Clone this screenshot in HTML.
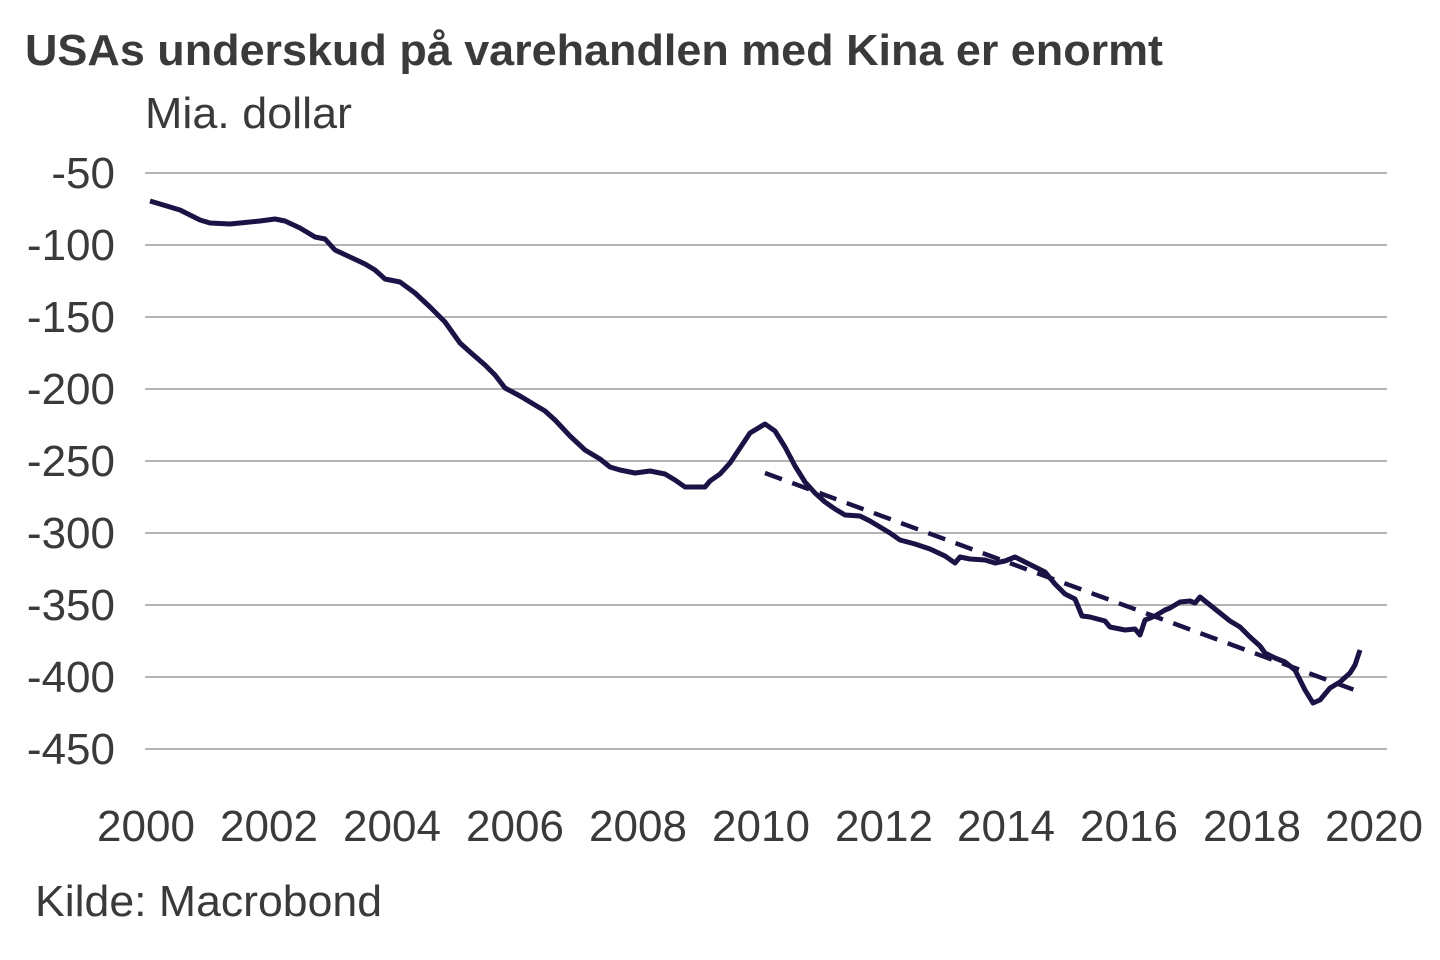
<!DOCTYPE html>
<html><head><meta charset="utf-8"><style>
body{margin:0;background:#fff;}
svg{display:block;font-family:"Liberation Sans",sans-serif;}
</style></head><body>
<svg width="1440" height="960" viewBox="0 0 1440 960">
<rect width="1440" height="960" fill="#fff"/>
<text x="25" y="65" font-size="44" font-weight="bold" fill="#3a3a3a" textLength="1138" lengthAdjust="spacingAndGlyphs">USAs underskud på varehandlen med Kina er enormt</text>
<text x="145" y="128" font-size="44" fill="#3a3a3a" textLength="207" lengthAdjust="spacingAndGlyphs">Mia. dollar</text>
<g stroke="#9a9a9a" stroke-width="1.5">
<line x1="145" x2="1387" y1="173" y2="173"/><line x1="145" x2="1387" y1="245" y2="245"/>
<line x1="145" x2="1387" y1="317" y2="317"/><line x1="145" x2="1387" y1="389" y2="389"/>
<line x1="145" x2="1387" y1="461" y2="461"/><line x1="145" x2="1387" y1="533" y2="533"/>
<line x1="145" x2="1387" y1="605" y2="605"/><line x1="145" x2="1387" y1="677" y2="677"/>
<line x1="145" x2="1387" y1="749" y2="749"/>
</g>
<g font-size="44" fill="#3a3a3a" text-anchor="end">
<text x="115" y="188">-50</text><text x="115" y="260">-100</text><text x="115" y="332">-150</text>
<text x="115" y="404">-200</text><text x="115" y="476">-250</text><text x="115" y="548">-300</text>
<text x="115" y="620">-350</text><text x="115" y="692">-400</text><text x="115" y="764">-450</text>
</g>
<g font-size="44" fill="#3a3a3a" text-anchor="middle">
<text x="146" y="841">2000</text><text x="269" y="841">2002</text><text x="392" y="841">2004</text>
<text x="515" y="841">2006</text><text x="638" y="841">2008</text><text x="761" y="841">2010</text>
<text x="884" y="841">2012</text><text x="1006" y="841">2014</text><text x="1129" y="841">2016</text>
<text x="1252" y="841">2018</text><text x="1374" y="841">2020</text>
</g>
<text x="35" y="916" font-size="44" fill="#3a3a3a" textLength="347" lengthAdjust="spacingAndGlyphs">Kilde: Macrobond</text>
<line x1="765" y1="473" x2="1360" y2="692" stroke="#1a1446" stroke-width="4.5" stroke-dasharray="18,11"/>
<polyline fill="none" stroke="#1a1446" stroke-width="5" stroke-linejoin="round" points="150,201 180,210 200,220 210,223 230,224 260,221 275,219 285,221 300,228 315,237 325,239 335,250 350,257 365,264 375,270 385,279 400,282 415,293 430,307 445,322 460,343 470,352 485,365 495,375 505,388 520,396 530,402 545,411 555,420 570,436 585,450 600,459 610,467 620,470 635,473 650,471 665,474 675,480 685,487 695,487 705,487 710,481 720,474 730,463 740,448 750,433 765,424 775,431 785,447 795,466 805,482 815,493 825,502 835,509 845,515 860,516 870,521 880,527 890,533 900,540 915,544 930,549 945,556 955,563 960,557 970,559 985,560 995,563 1005,561 1015,557 1025,562 1035,567 1045,572 1055,584 1065,594 1075,599 1082,616 1090,617 1105,621 1110,627 1125,630 1135,629 1140,635 1145,620 1155,616 1165,610 1170,608 1180,602 1190,601 1195,603 1200,597 1210,605 1220,613 1230,621 1240,627 1250,637 1260,646 1265,653 1275,658 1285,662 1295,670 1305,690 1313,703 1320,700 1330,688 1340,682 1350,673 1355,665 1360,650"/>
</svg>
</body></html>
